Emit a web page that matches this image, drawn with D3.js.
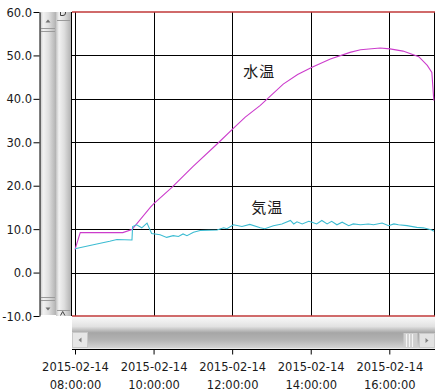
<!DOCTYPE html>
<html>
<head>
<meta charset="utf-8">
<script src="https://cdn.jsdelivr.net/npm/d3@7"></script>
<style>
    body { margin: 0; background: #fff; }
    svg { display: block; }
    text { font-family: 'DejaVu Sans', sans-serif; font-size: 11.5px; fill: #1a1a1a; }
    .series-label { font-family: 'Noto Sans CJK JP', sans-serif; font-size: 15px; letter-spacing: 1px; }
</style>
</head>
<body>
<svg id="chart" width="437" height="392"></svg>
<script>
'use strict';

const day = '2015-02-14';
const xTickTimes = ['08:00', '10:00', '12:00', '14:00', '16:00'];
const yTickValues = [-10, 0, 10, 20, 30, 40, 50, 60];
const seriesNames = ['水温', '気温'];

// 水温
const waterTimes = ['08:00', '08:08', '09:13', '09:27', '09:55', '10:00', '10:28', '11:00', '11:37',
    '12:01', '12:20', '12:43', '13:18', '13:40', '14:02', '14:30', '15:00', '15:16', '15:46',
    '16:01', '16:21', '16:45', '16:58', '17:05', '17:08'];
const waterValues = [5.3, 9.2, 9.2, 9.9, 15.0, 15.8, 19.6, 24.4, 29.6,
    33.1, 35.8, 38.5, 43.4, 45.6, 47.3, 49.2, 50.7, 51.3, 51.7,
    51.5, 51.0, 49.7, 47.7, 46.1, 39.6];

// 気温
const airTimes = ['08:00', '08:28', '08:53', '09:04', '09:27', '09:28', '09:34', '09:42', '09:50',
    '09:57', '10:10', '10:20', '10:30', '10:38', '10:45', '10:51', '11:01', '11:11', '11:37',
    '11:47', '11:52', '12:02', '12:15', '12:27', '12:43', '12:50', '13:03', '13:16', '13:29',
    '13:34', '13:39', '13:47', '13:57', '14:02', '14:09', '14:17', '14:25', '14:32', '14:40',
    '14:48', '14:58', '15:05', '15:16', '15:28', '15:36', '15:49', '15:59', '16:07', '16:14',
    '16:27', '16:42', '16:52', '17:05', '17:08'];
const airValues = [5.5, 6.4, 7.2, 7.6, 7.5, 10.6, 11.0, 10.3, 11.4,
    9.0, 8.7, 8.1, 8.5, 8.3, 8.9, 8.5, 9.3, 9.7, 9.8,
    10.3, 10.1, 11.0, 10.6, 11.1, 10.3, 10.1, 10.8, 11.2, 12.0,
    11.2, 11.7, 11.2, 11.8, 11.6, 11.2, 12.0, 11.2, 11.8, 11.0,
    11.6, 10.8, 11.2, 11.0, 11.2, 11.0, 11.4, 10.8, 11.2, 11.0,
    10.8, 10.4, 10.3, 9.8, 9.5];

// where each series name sits (time, value)
const labelTimes = ['12:17', '12:29'];
const labelValues = [45.0, 13.8];

const seriesColors = ['#cc3ccc', '#3cbcd2'];

class ChartController {
    constructor(svgId) {
        this.svg = d3.select(svgId);
        this.parse = d3.timeParse('%Y-%m-%d %H:%M');
        this.setUpEnvironment();
        this.drawScrollBars();
        this.drawGrid();
        this.drawAxes();
        this.drawChart();
    }

    toDate(t) {
        return this.parse(`${day} ${t}`);
    }

    setUpEnvironment() {
        this.area = { left: 71, right: 435, top: 12, bottom: 316 };

        this.x = d3.scaleTime()
            .domain([this.toDate('08:00'), this.toDate('16:00')])
            .range([75, 389.3]);

        this.y = d3.scaleLinear()
            .domain([-10, 60])
            .range([316, 12]);

        this.series = [
            { name: seriesNames[0], color: seriesColors[0],
              points: waterTimes.map((t, i) => ({ t: this.toDate(t), v: waterValues[i] })) },
            { name: seriesNames[1], color: seriesColors[1],
              points: airTimes.map((t, i) => ({ t: this.toDate(t), v: airValues[i] })) }
        ];
    }

    drawScrollBars() {
        const defs = this.svg.append('defs');

        const vGrad = defs.append('linearGradient').attr('id', 'vbar');
        [[0, '#c4c4c4'], [0.2, '#f2f2f2'], [0.55, '#dedede'], [1, '#b2b2b2']].forEach(s => {
            vGrad.append('stop').attr('offset', s[0]).attr('stop-color', s[1]);
        });

        const hGrad = defs.append('linearGradient')
            .attr('id', 'hbar')
            .attr('x1', 0).attr('x2', 0).attr('y1', 0).attr('y2', 1);
        [[0, '#f8f8f8'], [0.3, '#e2e2e2'], [0.5, '#a6a6a6'], [0.72, '#b2b2b2'], [1, '#d6d6d6']].forEach(s => {
            hGrad.append('stop').attr('offset', s[0]).attr('stop-color', s[1]);
        });

        const bars = this.svg.append('g').attr('class', 'scrollbars');
        const a = this.area;

        // vertical bars
        bars.append('rect')
            .attr('x', 40).attr('y', a.top).attr('width', 16).attr('height', a.bottom - a.top - 1)
            .attr('fill', 'url(#vbar)');
        bars.append('rect')
            .attr('x', 56).attr('y', a.top).attr('width', 15).attr('height', a.bottom - a.top)
            .attr('fill', 'url(#vbar)');

        const lines = [
            [41, 28.5, 55, 28.5], [41, 31.5, 55, 31.5], [41, 297.5, 55, 297.5],
            [41, 300.5, 55, 300.5], [57, 20.5, 70, 20.5], [57, 310.5, 70, 310.5]
        ];
        bars.selectAll('line.grip')
            .data(lines)
            .join('line')
            .attr('class', 'grip')
            .attr('x1', d => d[0]).attr('y1', d => d[1])
            .attr('x2', d => d[2]).attr('y2', d => d[3])
            .attr('stroke', '#9a9a9a');

        bars.append('path').attr('d', 'M45.5,22.5 L48,19.5 L50.5,22.5 Z').attr('fill', '#707070');
        bars.append('path').attr('d', 'M45.5,307.5 L48,310.5 L50.5,307.5 Z').attr('fill', '#707070');
        bars.append('path').attr('d', 'M60.5,12 V15.5 H63 Q65.5,15.5 65.5,13 V12')
            .attr('fill', 'none').attr('stroke', '#404040');
        bars.append('path').attr('d', 'M60.5,315.5 L62.7,311.5 L64.9,315.5')
            .attr('fill', 'none').attr('stroke', '#404040');

        // horizontal bar
        bars.append('rect')
            .attr('x', 72).attr('y', 317).attr('width', 363).attr('height', 31.5)
            .attr('fill', 'url(#hbar)');
        bars.append('rect')
            .attr('x', 72.5).attr('y', 332.5).attr('width', 15).attr('height', 15)
            .attr('fill', '#e6e6e6').attr('stroke', '#c8c8c8');
        bars.append('path').attr('d', 'M81.5,337.5 L78.5,340 L81.5,342.5 Z').attr('fill', '#808080');
        bars.append('rect')
            .attr('x', 403.5).attr('y', 333).attr('width', 14).attr('height', 15)
            .attr('fill', '#cfcfcf');
        bars.selectAll('line.thumb')
            .data([406, 409, 412])
            .join('line')
            .attr('class', 'thumb')
            .attr('x1', d => d + 0.5).attr('x2', d => d + 0.5)
            .attr('y1', 334).attr('y2', 347)
            .attr('stroke', '#f4f4f4').attr('stroke-width', 1.2);
        bars.append('rect')
            .attr('x', 419.5).attr('y', 333.5).attr('width', 15).attr('height', 14)
            .attr('fill', '#e2e2e2').attr('stroke', '#cacaca');
        bars.append('path').attr('d', 'M425.5,338 L428.5,340.5 L425.5,343 Z').attr('fill', '#808080');
    }

    drawGrid() {
        const a = this.area;
        const grid = this.svg.append('g').attr('class', 'grid');

        grid.selectAll('line.h')
            .data(yTickValues.filter(v => v > -10 && v < 60))
            .join('line')
            .attr('class', 'h')
            .attr('x1', a.left).attr('x2', a.right)
            .attr('y1', d => Math.round(this.y(d)) + 0.5)
            .attr('y2', d => Math.round(this.y(d)) + 0.5)
            .attr('stroke', '#000');

        grid.selectAll('line.v')
            .data(xTickTimes.map(t => this.toDate(t)))
            .join('line')
            .attr('class', 'v')
            .attr('x1', d => Math.round(this.x(d)) + 0.5)
            .attr('x2', d => Math.round(this.x(d)) + 0.5)
            .attr('y1', a.top).attr('y2', a.bottom)
            .attr('stroke', '#000');

        grid.selectAll('line.border')
            .data([a.left + 0.5, a.right - 0.5])
            .join('line')
            .attr('class', 'border')
            .attr('x1', d => d).attr('x2', d => d)
            .attr('y1', a.top).attr('y2', a.bottom)
            .attr('stroke', '#000');

        grid.selectAll('line.edge')
            .data([60, -10])
            .join('line')
            .attr('class', 'edge')
            .attr('x1', a.left + 1).attr('x2', a.right)
            .attr('y1', d => this.y(d)).attr('y2', d => this.y(d))
            .attr('stroke', '#c03838')
            .attr('stroke-width', 1.6);
    }

    drawAxes() {
        const yAxis = this.svg.append('g')
            .attr('class', 'y-axis')
            .attr('transform', 'translate(39.5,0)')
            .call(d3.axisLeft(this.y)
                .tickValues(yTickValues)
                .tickFormat(d => d.toFixed(1))
                .tickSize(6)
                .tickSizeOuter(0)
                .tickPadding(1.5));
        yAxis.select('.domain').attr('stroke', '#000');
        yAxis.selectAll('.tick line').attr('stroke', '#000');
        yAxis.selectAll('.tick text')
            .attr('font-family', null)
            .attr('font-size', null)
            .attr('fill', null)
            .attr('dy', '0.36em');

        const xAxis = this.svg.append('g')
            .attr('class', 'x-axis')
            .attr('transform', 'translate(0,349.5)')
            .call(d3.axisBottom(this.x)
                .tickValues(xTickTimes.map(t => this.toDate(t)))
                .tickSize(5)
                .tickSizeOuter(0));
        xAxis.select('.domain').remove();
        xAxis.append('line')
            .attr('x1', 72).attr('x2', 435)
            .attr('stroke', '#000');
        xAxis.selectAll('.tick line').attr('stroke', '#000');
        xAxis.selectAll('.tick text')
            .attr('font-family', null)
            .attr('font-size', null)
            .attr('fill', null)
            .text(null)
            .attr('y', 21.5)
            .attr('dy', null)
            .selectAll('tspan')
            .data(d => [day, d3.timeFormat('%H:%M:%S')(d)])
            .join('tspan')
            .attr('x', 0)
            .attr('dy', (d, i) => i ? 18 : 0)
            .text(d => d);
    }

    drawChart() {
        const line = d3.line()
            .x(d => this.x(d.t))
            .y(d => this.y(d.v));

        this.svg.append('g')
            .attr('class', 'series')
            .selectAll('path')
            .data(this.series)
            .join('path')
            .attr('d', d => line(d.points))
            .attr('fill', 'none')
            .attr('stroke', d => d.color)
            .attr('stroke-width', 1.1);

        this.svg.append('g')
            .selectAll('text')
            .data(this.series)
            .join('text')
            .attr('class', 'series-label')
            .attr('x', (d, i) => this.x(this.toDate(labelTimes[i])))
            .attr('y', (d, i) => this.y(labelValues[i]))
            .text(d => d.name);
    }
}

new ChartController('#chart');
</script>
</body>
</html>
